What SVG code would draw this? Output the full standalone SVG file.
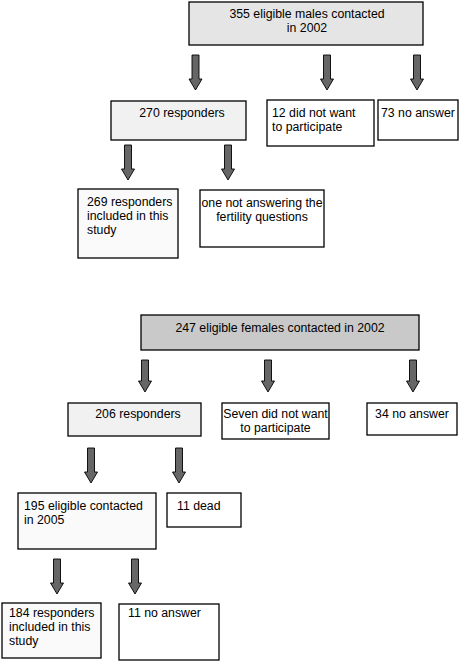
<svg xmlns="http://www.w3.org/2000/svg" width="472" height="664" viewBox="0 0 472 664">
<style>
rect{stroke:#000;stroke-width:1.3}
text{font-family:"Liberation Sans",Arial,sans-serif;font-size:12.3px;fill:#000}
.c{text-anchor:middle}
.w{fill:#fff}.l{fill:#f1f1f1}.m{fill:#e5e5e5}.d{fill:#c9c9c9}.o{fill:#fafafa}
.arr path{fill:#666;stroke:#000;stroke-width:0.9}
</style>
<rect width="472" height="664" fill="#fff" style="stroke:none"/>
<g id="connectors" class="arr">
<path d="M192,55H199V79H202L195.5,90L189,79H192Z"/>
<path d="M323.5,55H330.5V79H333.5L327,90L320.5,79H323.5Z"/>
<path d="M413.5,55H420.5V79H423.5L417,90L410.5,79H413.5Z"/>
<path d="M124.5,145H131.5V169H134.5L128,180L121.5,169H124.5Z"/>
<path d="M224.5,145H231.5V169H234.5L228,180L221.5,169H224.5Z"/>
<path d="M141.5,360H148.5V381H151.5L145,392L138.5,381H141.5Z"/>
<path d="M264.5,360H271.5V381H274.5L268,392L261.5,381H264.5Z"/>
<path d="M409.5,360H416.5V381H419.5L413,392L406.5,381H409.5Z"/>
<path d="M87.5,448H94.5V472H97.5L91,483L84.5,472H87.5Z"/>
<path d="M175.5,448H182.5V472H185.5L179,483L172.5,472H175.5Z"/>
<path d="M53.5,559H60.5V583H63.5L57,594L50.5,583H53.5Z"/>
<path d="M131.5,559H138.5V583H141.5L135,594L128.5,583H131.5Z"/>
</g>
<g id="males">
<rect class="m" x="189" y="2" width="234" height="43"/>
<text class="c" x="307" y="18">355 eligible males contacted</text>
<text class="c" x="307" y="32">in 2002</text>
</g>
<g id="m_responders">
<rect class="l" x="111" y="101" width="135" height="39"/>
<text class="c" x="182" y="117">270 responders</text>
</g>
<g id="m_refused">
<rect class="w" x="267" y="100" width="107" height="46"/>
<text x="272" y="117">12 did not want</text>
<text x="272" y="131">to participate</text>
</g>
<g id="m_noanswer">
<rect class="w" x="378" y="100" width="80" height="40"/>
<text x="381" y="117">73 no answer</text>
</g>
<g id="m_included">
<rect class="o" x="78" y="189" width="100" height="69"/>
<text x="87" y="206">269 responders</text>
<text x="87" y="220">included in this</text>
<text x="87" y="234">study</text>
</g>
<g id="m_fertility">
<rect class="w" x="200" y="190" width="124" height="57"/>
<text class="c" x="262" y="207">one not answering the</text>
<text class="c" x="262" y="221">fertility questions</text>
</g>
<g id="females">
<rect class="d" x="141" y="315" width="278" height="35"/>
<text class="c" x="280" y="332">247 eligible females contacted in 2002</text>
</g>
<g id="f_responders">
<rect class="l" x="68" y="403" width="133" height="33"/>
<text class="c" x="138" y="418">206 responders</text>
</g>
<g id="f_refused">
<rect class="w" x="222" y="403" width="107" height="36"/>
<text class="c" x="275.5" y="418">Seven did not want</text>
<text class="c" x="275.5" y="432">to participate</text>
</g>
<g id="f_noanswer">
<rect class="w" x="367" y="403" width="90" height="32"/>
<text class="c" x="412" y="418">34 no answer</text>
</g>
<g id="f_2005">
<rect class="o" x="18" y="493" width="138" height="56"/>
<text x="24" y="510">195 eligible contacted</text>
<text x="24" y="524">in 2005</text>
</g>
<g id="f_dead">
<rect class="w" x="167" y="493" width="74" height="34"/>
<text x="177" y="510">11 dead</text>
</g>
<g id="f_included">
<rect class="o" x="2" y="603" width="99" height="55"/>
<text x="9" y="617">184 responders</text>
<text x="9" y="631">included in this</text>
<text x="9" y="645">study</text>
</g>
<g id="f_noanswer2">
<rect class="w" x="119" y="604" width="100" height="56"/>
<text x="128" y="617">11 no answer</text>
</g>
</svg>
